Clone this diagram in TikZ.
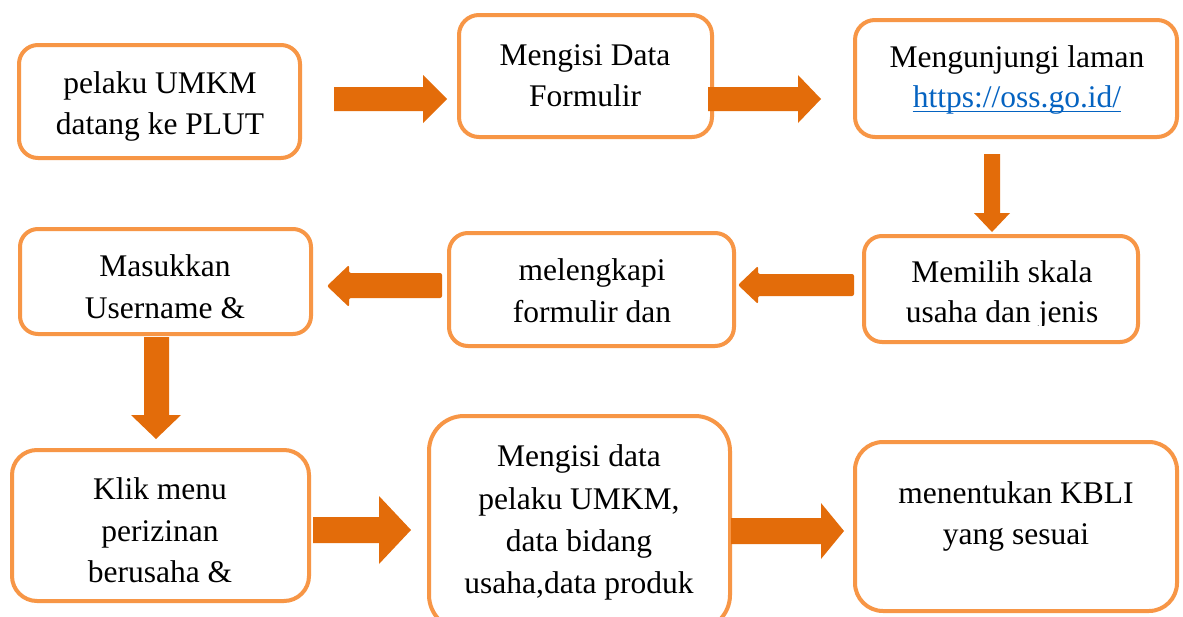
\documentclass[tikz,border=0pt]{standalone}
\usepackage{fontspec}
\setmainfont{Liberation Serif}
\newfontfamily\timesfont{Liberation Serif}
\definecolor{boxc}{HTML}{F79646}
\definecolor{arrc}{HTML}{E36C0A}
\definecolor{urlc}{HTML}{0563C1}
\begin{document}
\begin{tikzpicture}[x=1pt,y=-1pt,
  box/.style={draw=boxc, line width=4pt, fill=white, inner sep=0pt, outer sep=0pt},
  txt/.style={inner sep=0pt, anchor=base, font=\timesfont\fontsize{31.5}{41}\selectfont},
  blockarrow/.style={fill=arrc, draw=none}]
\clip (0,0) rectangle (1183,616);
\fill[white] (0,0) rectangle (1183,616);
% boxes
\node[box, minimum width=281pt, minimum height=113pt, rounded corners=19pt] (b1) at (159.5,101.5) {};
\node[box, minimum width=253pt, minimum height=122pt, rounded corners=20pt] (b2) at (585.5,76) {};
\node[box, minimum width=322pt, minimum height=117pt, rounded corners=20pt] (b3) at (1016,78.5) {};
\node[box, minimum width=274pt, minimum height=106pt, rounded corners=18pt] (b4) at (1001,289) {};
\node[box, minimum width=285pt, minimum height=113pt, rounded corners=19pt] (b5) at (591.5,289.5) {};
\node[box, minimum width=291pt, minimum height=105pt, rounded corners=18pt] (b6) at (165.5,281.5) {};
\node[box, minimum width=297pt, minimum height=151pt, rounded corners=25pt] (b7) at (160.5,525.5) {};
\node[box, minimum width=301pt, minimum height=214pt, rounded corners=35pt] (b8) at (579.5,523) {};
\node[box, minimum width=322pt, minimum height=169pt, rounded corners=28pt] (b9) at (1016,526.5) {};
% texts
\node[txt] (t1a) at (160,93) {pelaku UMKM};
\node[txt] (t1b) at (160,134) {datang ke PLUT};
\node[txt] (t2a) at (585,65) {Mengisi Data};
\node[txt] (t2b) at (585,106) {Formulir};
\node[txt] (t3a) at (1017,67) {Mengunjungi laman};
\node[txt, text=urlc] (t3b) at (1017,107) {https://oss.go.id/};
\draw[urlc, line width=1.5pt] ([yshift=-4.5pt]t3b.base west) -- ([yshift=-4.5pt]t3b.base east);
\node[txt] (t4a) at (1002,282) {Memilih skala};
\begin{scope}
\clip (850,230) rectangle (1150,325.5);
\node[txt] (t4b) at (1002,322) {usaha dan jenis};
\end{scope}
\node[txt] (t5a) at (592,280) {melengkapi};
\node[txt] (t5b) at (592,322) {formulir dan};
\node[txt] (t6a) at (165,276) {Masukkan};
\node[txt] (t6b) at (165,318) {Username \&};
\node[txt] (t7a) at (160,499) {Klik menu};
\node[txt] (t7b) at (160,541) {perizinan};
\node[txt] (t7c) at (160,582) {berusaha \&};
\node[txt] (t8a) at (579,466) {Mengisi data};
\node[txt] (t8b) at (579,509) {pelaku UMKM,};
\node[txt] (t8c) at (579,551) {data bidang};
\node[txt] (t8d) at (579,593) {usaha,data produk};
\node[txt] (t9a) at (1016,503) {menentukan KBLI};
\node[txt] (t9b) at (1016,544) {yang sesuai};
% block arrows
\fill[blockarrow] (334,87) -- (423,87) -- (423,75) -- (447,99) -- (423,123) -- (423,111) -- (334,111) -- cycle;
\fill[blockarrow] (708,87) -- (798,87) -- (798,75) -- (821,99) -- (798,123) -- (798,111) -- (708,111) -- cycle;
\fill[blockarrow] (984,154) -- (1000,154) -- (1000,213) -- (1010,213) -- (992,232) -- (974,213) -- (984,213) -- cycle;
\fill[blockarrow, rounded corners=2pt] (854,274) -- (758,274) -- (758,266) -- (738,285) -- (758,304) -- (758,296) -- (854,296) -- cycle;
\fill[blockarrow, rounded corners=2pt] (442,273) -- (349,273) -- (349,265) -- (327,286) -- (349,307) -- (349,298) -- (442,298) -- cycle;
\fill[blockarrow] (144,337) -- (169,337) -- (169,415) -- (181,415) -- (156,439) -- (131,415) -- (144,415) -- cycle;
\fill[blockarrow] (313,517) -- (379,517) -- (379,496) -- (411,530) -- (379,564) -- (379,543) -- (313,543) -- cycle;
\fill[blockarrow] (731,518) -- (821,518) -- (821,503) -- (844,531) -- (821,559) -- (821,544) -- (731,544) -- cycle;
\end{tikzpicture}
\end{document}
